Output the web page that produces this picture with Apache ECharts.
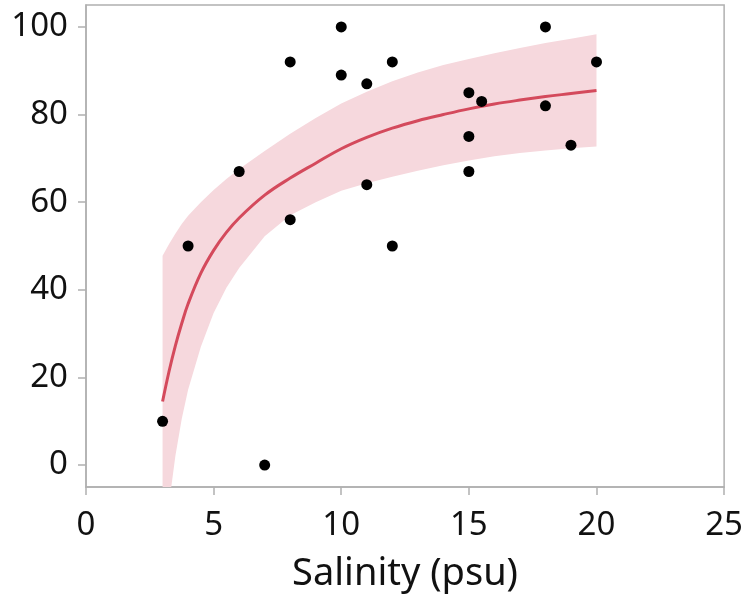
<!DOCTYPE html>
<html>
<head>
<meta charset="utf-8">
<script src="https://cdn.jsdelivr.net/npm/echarts@6/dist/echarts.min.js"></script>
<style>
html,body{margin:0;padding:0;background:#fff;}
#chart{width:746px;height:603px;}
</style>
</head>
<body>
<div id="chart"></div>
<script>
// Observed points
const salinity = [3, 4, 6, 7, 8, 8, 10, 10, 11, 11, 12, 12, 15, 15.5, 15, 15, 18, 18, 19, 20];
const response = [10, 50, 67, 0, 92, 56, 100, 89, 87, 64, 92, 50, 85, 83, 75, 67, 100, 82, 73, 92];

// Fitted curve and confidence band
const fitX      = [3, 3.25, 3.5, 3.75, 4, 4.5, 5, 5.5, 6, 7, 8, 9, 10, 11, 12, 13, 14, 15, 16, 17, 18, 19, 20];
const fitY      = [14.5, 21.3, 27.2, 32.3, 36.8, 43.8, 49, 53.1, 56.4, 61.6, 65.5, 68.9, 72.2, 74.8, 76.9, 78.6, 80, 81.3, 82.4, 83.3, 84.1, 84.8, 85.5];
const bandUpper = [47.8, 50.4, 52.8, 55, 56.9, 60, 62.8, 65.3, 67.6, 71.7, 75.6, 79.2, 82.5, 85.2, 87.6, 89.6, 91.3, 92.7, 94, 95.2, 96.3, 97.3, 98.3];
const bandLower = [-20, -9, 2, 10.5, 17.2, 27, 34.7, 40.5, 45, 52.2, 57, 60, 62.6, 64.3, 65.8, 67.2, 68.4, 69.5, 70.5, 71.2, 71.8, 72.3, 72.7];

// Tick labels
const xTicks = [0, 5, 10, 15, 20, 25];
const yTicks = [0, 20, 40, 60, 80, 100];
const xTitle = 'Salinity (psu)';

const pts = salinity.map((x, i) => [x, response[i]]);
const lineData = fitX.map((x, i) => [x, fitY[i]]);

const FONT = '"Noto Sans", "Open Sans", sans-serif';
const axisGray = '#b0b0b0';

function renderBand(params, api) {
  if (params.dataIndex !== 0) return null;
  const poly = [];
  for (let i = 0; i < fitX.length; i++) poly.push(api.coord([fitX[i], bandUpper[i]]));
  for (let i = fitX.length - 1; i >= 0; i--) poly.push(api.coord([fitX[i], bandLower[i]]));
  const cs = params.coordSys;
  return {
    type: 'polygon',
    shape: {points: poly, smooth: 0},
    style: {fill: '#f6d8dd', stroke: 'none'},
    clipPath: {type: 'rect', shape: {x: cs.x, y: cs.y, width: cs.width, height: cs.height}},
    silent: true
  };
}

const chart = echarts.init(document.getElementById('chart'), null, {renderer: 'canvas'});
chart.setOption({
  animation: false,
  backgroundColor: '#fff',
  grid: {left: 86, right: 19, top: 5, bottom: 116, show: true, borderColor: axisGray, borderWidth: 1.5, backgroundColor: 'transparent'},
  xAxis: {
    type: 'value', min: 0, max: 25, interval: 5,
    name: xTitle, nameLocation: 'middle', nameGap: 68,
    nameTextStyle: {fontSize: 38, color: '#111', fontFamily: FONT},
    axisLine: {show: true, onZero: false, lineStyle: {color: axisGray, width: 1.5}},
    axisTick: {show: true, length: 8, lineStyle: {color: axisGray, width: 1.5}},
    axisLabel: {fontSize: 33, color: '#111', fontFamily: FONT, margin: 22, customValues: xTicks},
    splitLine: {show: false}
  },
  yAxis: {
    type: 'value', min: -5, max: 105,
    axisLine: {show: true, onZero: false, lineStyle: {color: axisGray, width: 1.5}},
    axisTick: {show: true, length: 8, lineStyle: {color: axisGray, width: 1.5}, customValues: yTicks},
    axisLabel: {fontSize: 33, color: '#111', fontFamily: FONT, margin: 18, customValues: yTicks},
    splitLine: {show: false}
  },
  series: [
    {
      type: 'custom', renderItem: renderBand, data: [[fitX[0], bandLower[0]]],
      silent: true, z: 1
    },
    {
      type: 'line', data: lineData, smooth: 0.4, symbol: 'none',
      lineStyle: {color: '#d44a5c', width: 3}, clip: true, z: 2
    },
    {
      type: 'scatter', data: pts, symbolSize: 11,
      itemStyle: {color: '#000', opacity: 1}, z: 3
    }
  ]
});
</script>
</body>
</html>
